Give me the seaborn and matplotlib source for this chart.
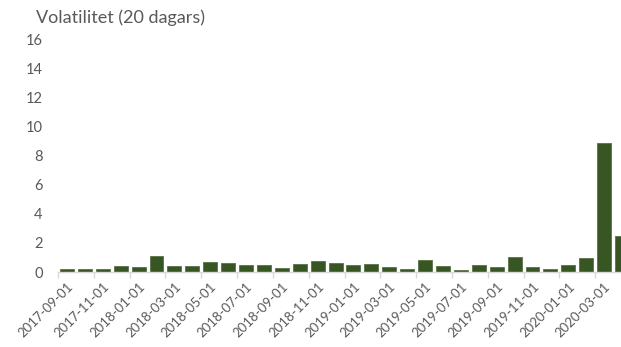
import matplotlib
matplotlib.use("Agg")
import matplotlib.pyplot as plt
import seaborn as sns
import pandas as pd
import numpy as np

months = ["2017-09-01", "2017-10-01", "2017-11-01", "2017-12-01",
          "2018-01-01", "2018-02-01", "2018-03-01", "2018-04-01",
          "2018-05-01", "2018-06-01", "2018-07-01", "2018-08-01",
          "2018-09-01", "2018-10-01", "2018-11-01", "2018-12-01",
          "2019-01-01", "2019-02-01", "2019-03-01", "2019-04-01",
          "2019-05-01", "2019-06-01", "2019-07-01", "2019-08-01",
          "2019-09-01", "2019-10-01", "2019-11-01", "2019-12-01",
          "2020-01-01", "2020-02-01", "2020-03-01", "2020-04-01"]
volatility = [0.23, 0.20, 0.23, 0.41,
              0.37, 1.10, 0.41, 0.39,
              0.69, 0.64, 0.50, 0.50,
              0.28, 0.55, 0.76, 0.64,
              0.50, 0.53, 0.37, 0.23,
              0.85, 0.41, 0.16, 0.48,
              0.34, 1.05, 0.37, 0.23,
              0.50, 0.99, 8.90, 2.45]
title = "Volatilitet (20 dagars)"
yticks = [0, 2, 4, 6, 8, 10, 12, 14, 16]

df = pd.DataFrame({"month": months, "vol": volatility})

sns.set_theme(style="white")
plt.rcParams["font.family"] = ["Lato", "DejaVu Sans"]

W, H = 621, 347
fig = plt.figure(figsize=(W / 100, H / 100), dpi=100)
left = 58 / W
right = 631 / W
bottom = (H - 272) / H
top = (H - 39.5) / H
ax = fig.add_axes([left, bottom, right - left, top - bottom])

sns.barplot(data=df, x="month", y="vol", ax=ax, color="#375623",
            saturation=1, width=0.78, edgecolor="#5a7246", linewidth=0.6)

ax.set_xlim(-0.5, len(months) - 0.5)
ax.set_ylim(0, 16)
ax.set_yticks(yticks)
ax.set_yticklabels([str(t) for t in yticks])
ax.set_xlabel("")
ax.set_ylabel("")

# labels every second month at bar centres
pos = np.arange(len(months))
ax.set_xticks(pos[::2])
ax.set_xticklabels([months[i] for i in pos[::2]], rotation=45, ha="right",
                   rotation_mode="anchor")
ax.set_xticks(np.arange(-0.5, len(months), 2), minor=True)
ax.tick_params(axis="x", which="major", length=0, pad=6, labelsize=9.5,
               labelcolor="#595959")
ax.tick_params(axis="x", which="minor", length=4, width=1, color="#d9d9d9",
               direction="out", bottom=True)
ax.tick_params(axis="y", length=0, pad=11, labelsize=10.5, labelcolor="#595959")
for lab in ax.get_yticklabels():
    lab.set_horizontalalignment("right")

for s in ["top", "right", "left"]:
    ax.spines[s].set_visible(False)
ax.spines["bottom"].set_color("#d9d9d9")
ax.spines["bottom"].set_linewidth(1)
ax.grid(False)

fig.text(36 / W, (H - 18) / H, title, fontsize=13, color="#595959",
         ha="left", va="center")

fig.savefig("out.png", dpi=100)
